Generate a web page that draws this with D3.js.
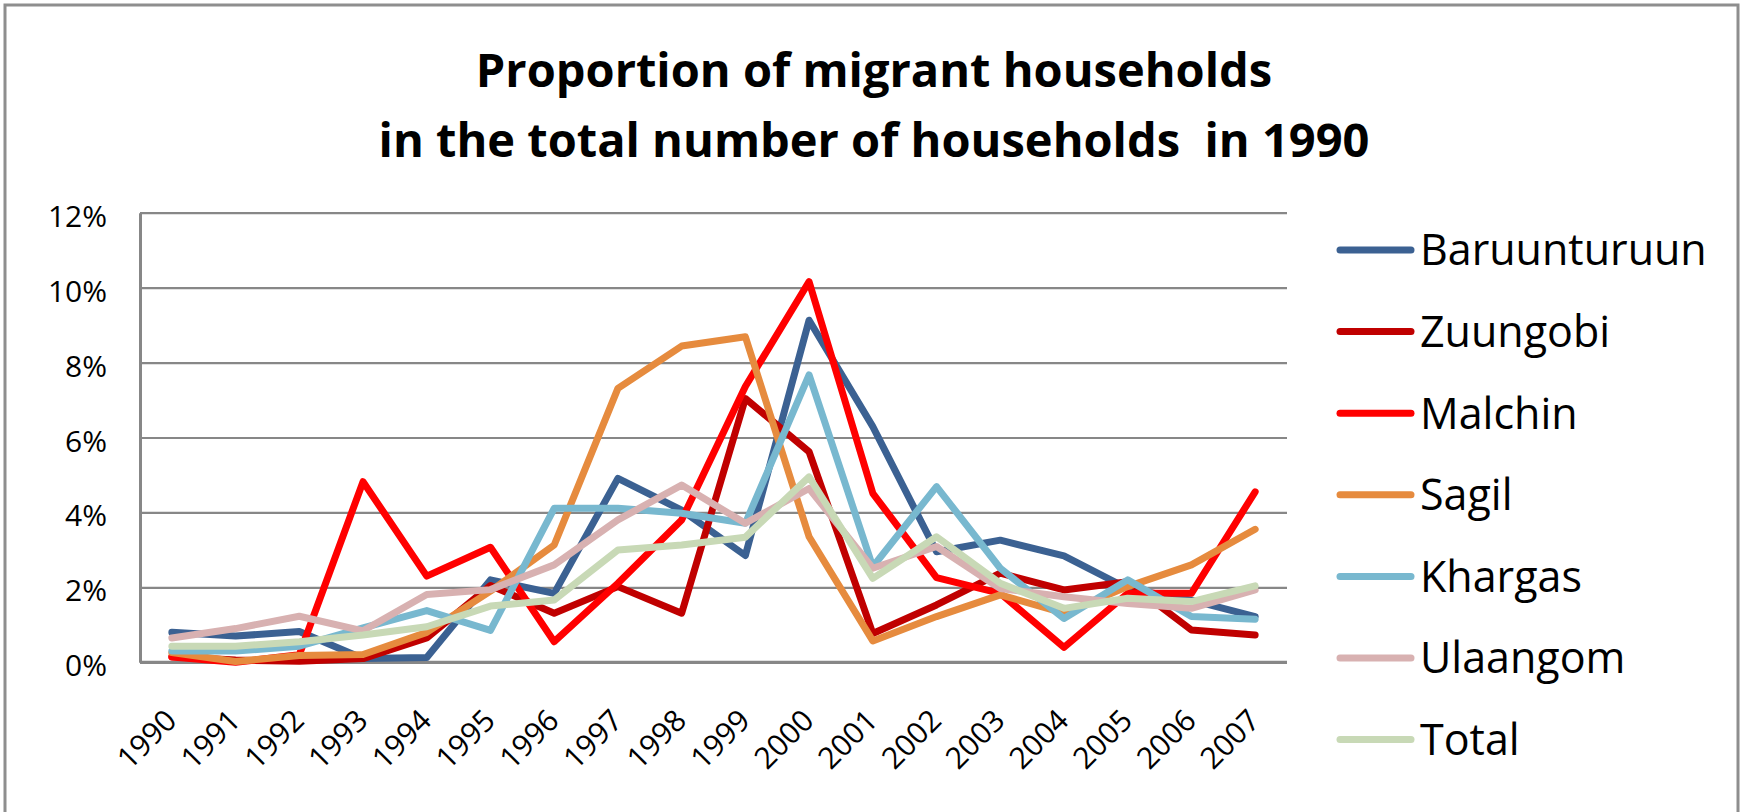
<!DOCTYPE html>
<html>
<head>
<meta charset="utf-8">
<script src="https://cdn.jsdelivr.net/npm/d3@7"></script>
<style>
  html, body { margin: 0; padding: 0; background: #ffffff; }
  svg { display: block; font-family: "Open Sans", "DejaVu Sans", sans-serif; }
</style>
</head>
<body>
<svg id="chart" width="1742" height="812"></svg>
<script>
// ---------- data ----------
const years = ["1990","1991","1992","1993","1994","1995","1996","1997","1998","1999","2000","2001","2002","2003","2004","2005","2006","2007"];
const seriesNames = ["Baruunturuun","Zuungobi","Malchin","Sagil","Khargas","Ulaangom","Total"];
const baruunturuun = [0.80, 0.70, 0.82, 0.10, 0.13, 2.20, 1.84, 4.91, 4.06, 2.85, 9.13, 6.29, 2.95, 3.26, 2.84, 1.97, 1.66, 1.22];
const zuungobi     = [0.15, 0.06, 0.03, 0.10, 0.65, 2.05, 1.31, 2.02, 1.31, 7.04, 5.62, 0.77, 1.53, 2.38, 1.93, 2.15, 0.86, 0.73];
const malchin      = [0.14, 0.00, 0.20, 4.82, 2.30, 3.07, 0.55, 2.11, 3.80, 7.36, 10.16, 4.51, 2.26, 1.84, 0.40, 1.84, 1.84, 4.55];
const sagil        = [0.26, 0.02, 0.18, 0.21, 0.80, 1.90, 3.13, 7.31, 8.44, 8.69, 3.35, 0.57, 1.22, 1.80, 1.31, 2.02, 2.60, 3.55];
const khargas      = [0.30, 0.30, 0.43, 0.92, 1.38, 0.85, 4.11, 4.11, 3.98, 3.71, 7.67, 2.55, 4.69, 2.51, 1.17, 2.20, 1.22, 1.15];
const ulaangom     = [0.65, 0.90, 1.23, 0.84, 1.81, 1.94, 2.60, 3.80, 4.73, 3.71, 4.64, 2.51, 3.09, 1.97, 1.75, 1.57, 1.44, 1.93];
const total        = [0.43, 0.43, 0.55, 0.73, 0.95, 1.50, 1.66, 3.00, 3.13, 3.34, 4.95, 2.24, 3.35, 2.11, 1.44, 1.71, 1.62, 2.04];
const yTicks = [0, 2, 4, 6, 8, 10, 12];
const titleLines = ["Proportion of migrant households", "in the total number of households  in 1990"];
const colors = ["#3B6192", "#C00000", "#FF0000", "#E68B3E", "#78B8CF", "#D8B1B1", "#C8D9B6"];

const seriesValues = [baruunturuun, zuungobi, malchin, sagil, khargas, ulaangom, total];
const series = seriesNames.map((name, i) => ({ name, color: colors[i], values: seriesValues[i] }));

// ---------- layout ----------
const svg = d3.select("#chart");
const plot = { left: 140, right: 1287, top: 212.7, bottom: 662.3 };

// outer frame
svg.append("rect")
  .attr("x", 5).attr("y", 5)
  .attr("width", 1733).attr("height", 840)
  .attr("fill", "#ffffff")
  .attr("stroke", "#8e8e8e").attr("stroke-width", 3);

// title
const title = svg.append("text")
  .attr("text-anchor", "middle")
  .attr("font-size", 47).attr("font-weight", 700).attr("fill", "#000");
title.selectAll("tspan").data(titleLines).join("tspan")
  .attr("x", 874)
  .attr("y", (d, i) => 87 + i * 70)
  .attr("xml:space", "preserve")
  .text(d => d);

// scales
const x = d3.scalePoint().domain(years).range([plot.left, plot.right]).padding(0.5);
const y = d3.scaleLinear().domain([0, 12]).range([plot.bottom, plot.top]);

// gridlines
svg.append("g")
  .attr("transform", `translate(${plot.left},0)`)
  .call(d3.axisLeft(y).tickValues(yTicks).tickSize(-(plot.right - plot.left)).tickFormat(""))
  .call(g => g.select(".domain").remove())
  .call(g => g.selectAll(".tick line").attr("stroke", "#878787").attr("stroke-width", 2.2));

// y axis labels + line
svg.append("g")
  .attr("transform", `translate(${plot.left},0)`)
  .call(d3.axisLeft(y).tickValues(yTicks).tickSize(0).tickPadding(33).tickFormat(d => d + "%"))
  .call(g => g.select(".domain").attr("stroke", "#878787").attr("stroke-width", 3))
  .call(g => g.selectAll(".tick text")
      .attr("font-family", "Open Sans").attr("font-size", 30).attr("fill", "#000")
      .attr("dy", "0.45em"));

// x axis
svg.append("g")
  .attr("transform", `translate(0,${plot.bottom})`)
  .call(d3.axisBottom(x).tickSize(0).tickPadding(0))
  .call(g => g.select(".domain").attr("stroke", "#878787").attr("stroke-width", 3)
      .attr("d", `M${plot.left},0H${plot.right}`))
  .call(g => g.selectAll(".tick text")
      .attr("font-family", "Open Sans").attr("font-size", 30).attr("fill", "#000")
      .attr("text-anchor", "end")
      .attr("dy", null).attr("y", null)
      .attr("transform", "translate(6,60) rotate(-45)"));

// lines
const line = d3.line().x((d, i) => x(years[i])).y(d => y(d));
svg.append("g").selectAll("path").data(series).join("path")
  .attr("d", d => line(d.values))
  .attr("fill", "none")
  .attr("stroke", d => d.color)
  .attr("stroke-width", 7)
  .attr("stroke-linejoin", "round")
  .attr("stroke-linecap", "round");

// legend
const legend = svg.append("g").selectAll("g").data(series).join("g")
  .attr("transform", (d, i) => `translate(0,${250 + i * 81.6})`);
legend.append("line")
  .attr("x1", 1340).attr("x2", 1411).attr("y1", 0).attr("y2", 0)
  .attr("stroke", d => d.color).attr("stroke-width", 7).attr("stroke-linecap", "round");
legend.append("text")
  .attr("x", 1420).attr("y", 0).attr("dy", "0.36em")
  .attr("font-size", 43).attr("fill", "#000")
  .text(d => d.name);
</script>
</body>
</html>
